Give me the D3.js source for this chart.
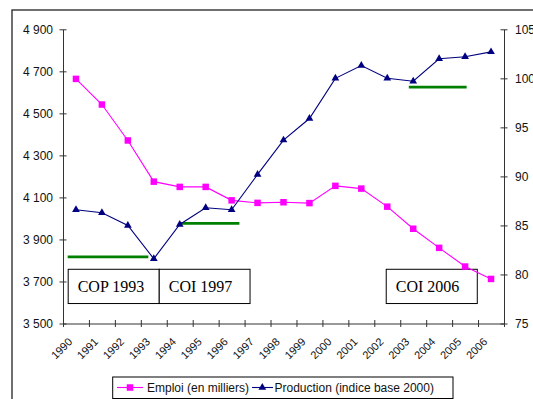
<!DOCTYPE html>
<html><head><meta charset="utf-8">
<script src="https://cdn.jsdelivr.net/npm/d3@7"></script>
<style>body{margin:0;background:#fff}svg{display:block}</style>
</head><body>
<svg id="c" width="533" height="399"></svg>
<script>
const years = ["1990","1991","1992","1993","1994","1995","1996","1997","1998","1999","2000","2001","2002","2003","2004","2005","2006"];
const emploi = [4664,4542,4371,4175,4150,4150,4086,4074,4077,4073,4155,4142,4056,3951,3860,3771,3712];
const production = [86.6,86.3,85.0,81.6,85.1,86.8,86.6,90.2,93.7,95.9,100.0,101.3,100.0,99.7,102.0,102.2,102.7];
const leftTicks = [3500,3700,3900,4100,4300,4500,4700,4900];
const rightTicks = [75,80,85,90,95,100,105];
const seriesNames = ["Emploi (en milliers)","Production (indice base 2000)"];
const periodLabels = ["COP 1993","COI 1997","COI 2006"];
const periodBoxFrom = [0.2,3.71,12.46];
const periodBoxTo = [3.71,7.21,15.97];
const greenFrom = [0.18,4.51,13.33];
const greenTo = [3.29,6.8,15.56];
const greenLevel = [81.8,85.2,99.1];

const svg = d3.select("#c");
const L = 63, R = 504, T = 29.3, B = 323.5;
const font = "'Liberation Sans', Arial, sans-serif";

// outer frame
svg.append("rect").attr("x",12).attr("y",10).attr("width",560).attr("height",420)
  .attr("fill","none").attr("stroke","#222").attr("stroke-width",1.3);

const x = d3.scaleBand().domain(years).range([L,R]).padding(0);
const xi = d3.scaleLinear().domain([0,years.length]).range([L,R]);
const yL = d3.scaleLinear().domain([3500,4900]).range([B,T]);
const yR = d3.scaleLinear().domain([75,105]).range([B,T]);
const cx = d => x(d) + x.bandwidth()/2;

const fmt = v => Math.floor(v/1000) + " " + String(v%1000).padStart(3,"0");

// left axis
const gl = svg.append("g").attr("transform",`translate(${L},0)`)
  .call(d3.axisLeft(yL).tickValues(leftTicks).tickFormat(fmt).tickSize(4).tickSizeOuter(0).tickPadding(6));
gl.selectAll(".tick line").attr("x1",3.5).attr("x2",-3.5);
// right axis
const gr = svg.append("g").attr("transform",`translate(${R},0)`)
  .call(d3.axisRight(yR).tickValues(rightTicks).tickSize(4).tickSizeOuter(0).tickPadding(7));
gr.selectAll(".tick line").attr("x1",-3.5).attr("x2",3.5);
// bottom axis
const gb = svg.append("g").attr("transform",`translate(0,${B})`)
  .call(d3.axisBottom(xi).tickValues(d3.range(years.length+1)).tickFormat("").tickSize(4).tickSizeOuter(0));
gb.selectAll(".tick line").attr("y1",-3.5).attr("y2",3.5);

[gl,gr,gb].forEach(g=>{
  g.selectAll("path,line").attr("stroke","#333").attr("stroke-width",1);
  g.selectAll("text").attr("fill","#111").style("font-family",font).style("font-size","12px");
});

// x labels
svg.append("g").selectAll("text").data(years).join("text")
  .attr("transform",d=>`translate(${cx(d)-3},${B+19}) rotate(-45)`)
  .attr("text-anchor","end").style("font-family",font).style("font-size","11px").attr("fill","#111")
  .text(d=>d);

// green lines
svg.append("g").selectAll("line").data(greenLevel).join("line")
  .attr("x1",(d,i)=>xi(greenFrom[i])).attr("x2",(d,i)=>xi(greenTo[i]))
  .attr("y1",d=>yR(d)).attr("y2",d=>yR(d))
  .attr("stroke","#008000").attr("stroke-width",2.8);

// period boxes
const boxTop = 3758, boxBot = 3595;
const pb = svg.append("g").selectAll("g").data(periodLabels).join("g");
pb.append("rect").attr("x",(d,i)=>xi(periodBoxFrom[i])).attr("y",yL(boxTop))
  .attr("width",(d,i)=>xi(periodBoxTo[i])-xi(periodBoxFrom[i])).attr("height",yL(boxBot)-yL(boxTop))
  .attr("fill","#fff").attr("stroke","#000").attr("stroke-width",1);
pb.append("text").attr("x",(d,i)=>xi(periodBoxFrom[i])+9.5).attr("y",(yL(boxTop)+yL(boxBot))/2+5.5)
  .style("font-family","'Liberation Serif','Times New Roman',serif").style("font-size","16px").attr("fill","#000")
  .text(d=>d);

// lines
const lineE = d3.line().x((d,i)=>cx(years[i])).y(d=>yL(d));
const lineP = d3.line().x((d,i)=>cx(years[i])).y(d=>yR(d));
svg.append("path").attr("d",lineE(emploi)).attr("fill","none").attr("stroke","#FF00FF").attr("stroke-width",1.1);
svg.append("path").attr("d",lineP(production)).attr("fill","none").attr("stroke","#000080").attr("stroke-width",1.1);

const sq = 6.5;
svg.append("g").selectAll("rect").data(emploi).join("rect")
  .attr("x",(d,i)=>cx(years[i])-sq/2).attr("y",d=>yL(d)-sq/2).attr("width",sq).attr("height",sq)
  .attr("fill","#FF00FF");
const tri = d3.symbol().type(d3.symbolTriangle).size(26);
svg.append("g").selectAll("path").data(production).join("path")
  .attr("transform",(d,i)=>`translate(${cx(years[i])},${yR(d)})`).attr("d",tri).attr("fill","#000080");

// legend
const lg = svg.append("g");
lg.append("rect").attr("x",112.7).attr("y",377).attr("width",340.3).attr("height",21.5)
  .attr("fill","#fff").attr("stroke","#000").attr("stroke-width",1);
const ly = 387.5;
lg.append("line").attr("x1",117).attr("x2",143).attr("y1",ly).attr("y2",ly).attr("stroke","#FF00FF").attr("stroke-width",1.1);
lg.append("rect").attr("x",130-sq/2).attr("y",ly-sq/2).attr("width",sq).attr("height",sq).attr("fill","#FF00FF");
lg.append("text").attr("x",147).attr("y",ly+4.3).text(seriesNames[0]);
lg.append("line").attr("x1",252).attr("x2",273).attr("y1",ly).attr("y2",ly).attr("stroke","#000080").attr("stroke-width",1.1);
lg.append("path").attr("transform",`translate(262.3,${ly})`).attr("d",tri).attr("fill","#000080");
lg.append("text").attr("x",274.5).attr("y",ly+4.3).text(seriesNames[1]);
lg.selectAll("text").style("font-family",font).style("font-size","12px").attr("fill","#111");
</script>
</body></html>
